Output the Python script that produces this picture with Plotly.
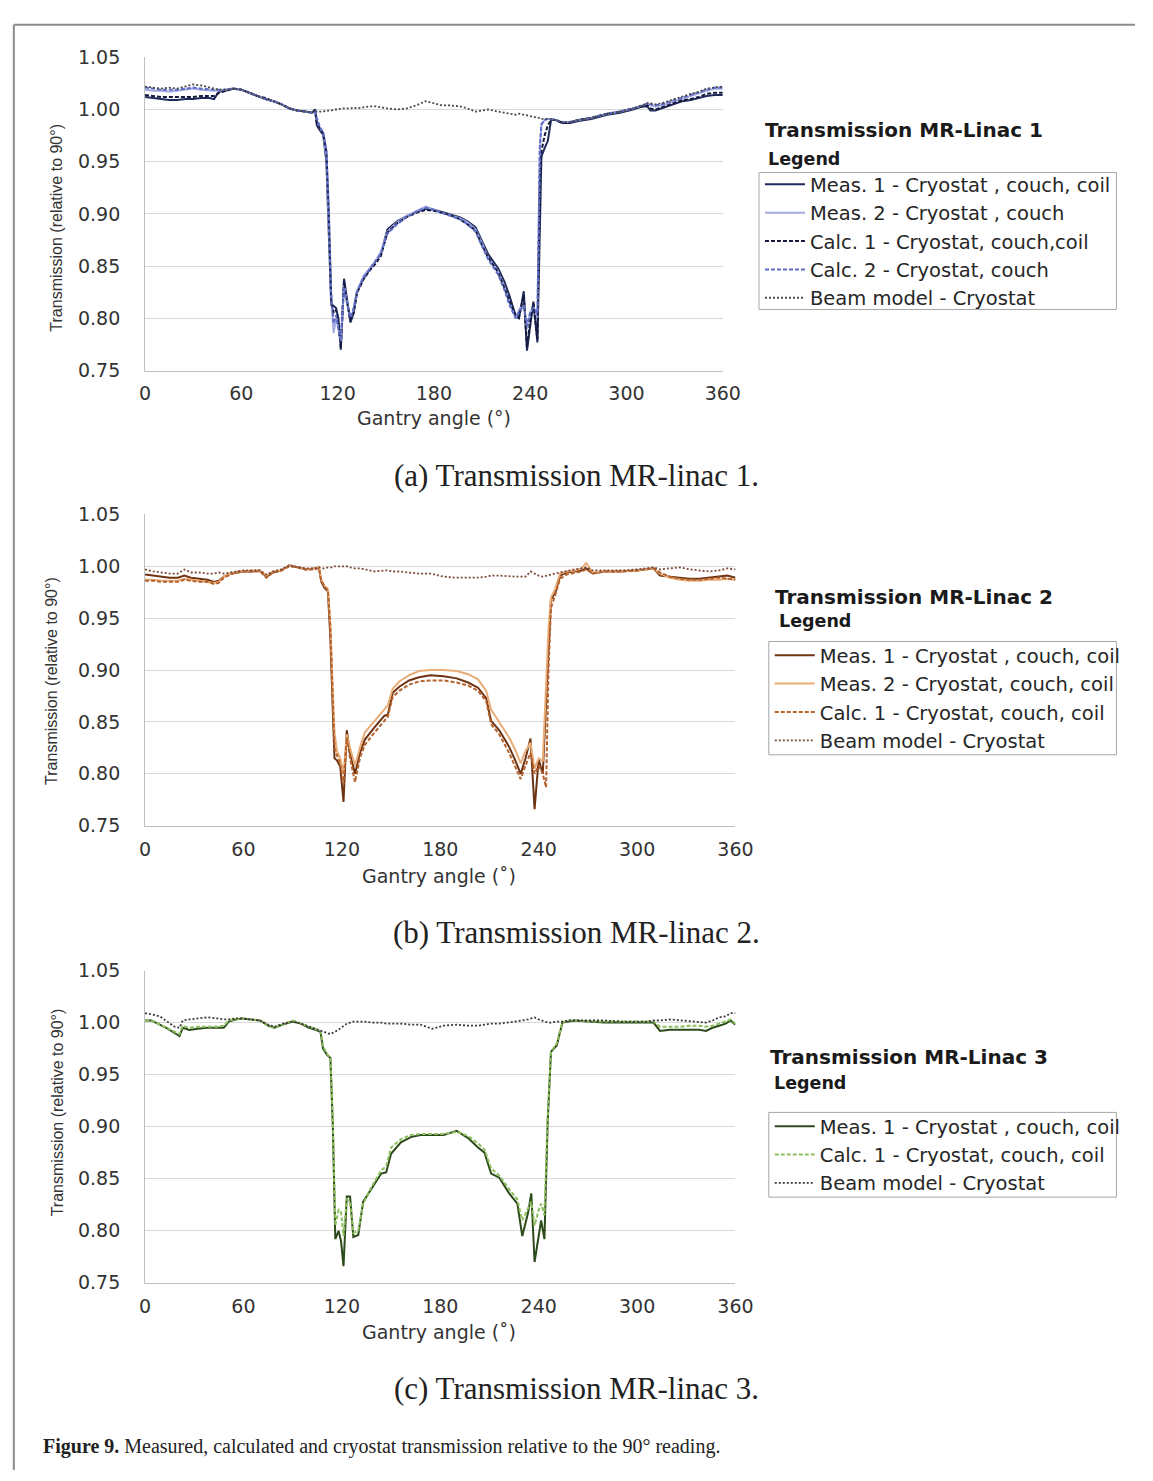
import plotly.graph_objects as go

W, H = 1153, 1481

# ---------------- DATA ----------------
X_TICKS = [0, 60, 120, 180, 240, 300, 360]
Y_TICKS = [0.75, 0.80, 0.85, 0.90, 0.95, 1.00, 1.05]

# Panel 1 - MR-Linac 1
A1 = [0, 5, 10, 15, 20, 25, 30, 35, 40, 43,
      46, 50, 55, 60, 65, 70, 75, 80, 85, 90,
      95, 100, 104, 106, 107, 109, 111, 113, 114.5, 116,
      117.5, 119, 120.5, 122, 124, 126, 128, 130, 132, 136,
      140, 144, 147, 151, 157, 163, 169, 175, 180, 185,
      190, 196, 201, 206, 210, 214, 220, 224, 227, 231,
      233, 236, 238, 240, 242, 244.5, 246, 247, 249, 251,
      253, 256, 260, 265, 270, 278, 288, 296, 304, 310,
      313, 315, 318, 322, 326, 330, 335, 340, 345, 350,
      355, 360]
MEAS1_1 = [1.012, 1.011, 1.010, 1.009, 1.009, 1.010, 1.010, 1.011, 1.011, 1.010,
           1.017, 1.018, 1.020, 1.019, 1.016, 1.013, 1.010, 1.008, 1.005, 1.001,
           0.999, 0.998, 0.997, 1.000, 0.985, 0.980, 0.976, 0.950, 0.880, 0.813,
           0.812, 0.810, 0.800, 0.770, 0.838, 0.818, 0.796, 0.805, 0.825, 0.838,
           0.847, 0.855, 0.862, 0.885, 0.893, 0.898, 0.902, 0.905, 0.904, 0.902,
           0.900, 0.897, 0.893, 0.887, 0.874, 0.861, 0.848, 0.835, 0.822, 0.802,
           0.800, 0.826, 0.769, 0.795, 0.816, 0.777, 0.900, 0.955, 0.963, 0.970,
           0.990, 0.990, 0.987, 0.987, 0.989, 0.991, 0.995, 0.997, 1.000, 1.003,
           1.003, 0.999, 0.999, 1.001, 1.003, 1.005, 1.008, 1.009, 1.011, 1.013,
           1.014, 1.014]
MEAS2_1 = [1.019, 1.018, 1.018, 1.017, 1.018, 1.019, 1.020, 1.019, 1.018, 1.018,
           1.018, 1.019, 1.020, 1.019, 1.016, 1.013, 1.010, 1.008, 1.005, 1.001,
           0.999, 0.998, 0.997, 0.998, 0.990, 0.982, 0.978, 0.955, 0.890, 0.820,
           0.786, 0.800, 0.790, 0.775, 0.832, 0.815, 0.800, 0.808, 0.826, 0.840,
           0.848, 0.856, 0.864, 0.883, 0.892, 0.898, 0.903, 0.907, 0.904, 0.901,
           0.899, 0.896, 0.892, 0.885, 0.872, 0.858, 0.845, 0.830, 0.815, 0.800,
           0.808, 0.815, 0.790, 0.805, 0.812, 0.800, 0.960, 0.985, 0.990, 0.991,
           0.991, 0.990, 0.988, 0.988, 0.990, 0.992, 0.996, 0.998, 1.001, 1.004,
           1.005, 1.004, 1.003, 1.004, 1.006, 1.008, 1.011, 1.013, 1.016, 1.018,
           1.020, 1.020]
CALC1_1 = [1.014, 1.013, 1.012, 1.012, 1.012, 1.012, 1.012, 1.013, 1.013, 1.013,
           1.016, 1.018, 1.020, 1.019, 1.016, 1.013, 1.011, 1.008, 1.005, 1.001,
           0.999, 0.998, 0.997, 0.999, 0.988, 0.981, 0.977, 0.960, 0.900, 0.818,
           0.805, 0.808, 0.795, 0.772, 0.835, 0.815, 0.798, 0.806, 0.824, 0.837,
           0.846, 0.853, 0.860, 0.882, 0.891, 0.897, 0.901, 0.904, 0.903, 0.901,
           0.899, 0.895, 0.890, 0.884, 0.870, 0.858, 0.844, 0.829, 0.817, 0.803,
           0.801, 0.822, 0.772, 0.798, 0.814, 0.780, 0.930, 0.960, 0.975, 0.985,
           0.990, 0.990, 0.987, 0.988, 0.990, 0.992, 0.996, 0.998, 1.001, 1.003,
           1.004, 1.001, 1.000, 1.002, 1.004, 1.006, 1.009, 1.010, 1.012, 1.015,
           1.016, 1.016]
CALC2_1 = [1.021, 1.020, 1.019, 1.019, 1.019, 1.020, 1.021, 1.020, 1.019, 1.019,
           1.019, 1.019, 1.020, 1.019, 1.016, 1.013, 1.010, 1.008, 1.005, 1.001,
           0.999, 0.998, 0.997, 0.998, 0.992, 0.983, 0.978, 0.962, 0.905, 0.825,
           0.795, 0.803, 0.792, 0.778, 0.830, 0.813, 0.801, 0.810, 0.825, 0.839,
           0.847, 0.855, 0.862, 0.881, 0.890, 0.897, 0.902, 0.906, 0.904, 0.901,
           0.898, 0.895, 0.890, 0.883, 0.869, 0.856, 0.842, 0.827, 0.813, 0.800,
           0.806, 0.812, 0.793, 0.806, 0.810, 0.805, 0.965, 0.986, 0.990, 0.991,
           0.991, 0.990, 0.988, 0.988, 0.990, 0.992, 0.996, 0.998, 1.001, 1.004,
           1.006, 1.005, 1.004, 1.005, 1.007, 1.009, 1.012, 1.014, 1.017, 1.019,
           1.021, 1.021]
BEAM_1 = [1.022, 1.021, 1.020, 1.021, 1.020, 1.022, 1.024, 1.023, 1.021, 1.020,
          1.019, 1.019, 1.020, 1.019, 1.016, 1.013, 1.010, 1.008, 1.005, 1.001,
          0.999, 0.998, 0.997, 0.998, 0.998, 0.998, 0.998, 0.999, 0.999, 0.999,
          1.000, 1.000, 1.000, 1.001, 1.001, 1.001, 1.001, 1.002, 1.001, 1.002,
          1.003, 1.003, 1.002, 1.001, 1.000, 1.001, 1.004, 1.008, 1.006, 1.004,
          1.004, 1.003, 1.001, 0.998, 0.999, 1.000, 0.998, 0.997, 0.996, 0.995,
          0.996, 0.995, 0.995, 0.994, 0.993, 0.992, 0.992, 0.991, 0.991, 0.991,
          0.991, 0.990, 0.988, 0.988, 0.990, 0.992, 0.996, 0.998, 1.001, 1.004,
          1.006, 1.006, 1.005, 1.006, 1.008, 1.010, 1.013, 1.015, 1.017, 1.020,
          1.021, 1.022]

# Panel 2 - MR-Linac 2
A2 = [0, 5, 10, 15, 20, 24, 28, 33, 38, 42,
      45, 48, 52, 56, 60, 65, 70, 74, 78, 83,
      88, 93, 98, 103, 106, 107.5, 109.5, 111.5, 113, 114.5,
      115.5, 117, 119, 121, 123, 125, 128, 131, 134, 140,
      146, 148, 151, 155, 161, 167, 174, 182, 190, 197,
      203, 208, 211, 216, 222, 226, 229, 232, 235, 237.5,
      240, 242.5, 244.5, 246, 247.5, 250, 253, 257, 262, 266,
      269, 273, 280, 290, 300, 306, 310, 314, 320, 326,
      332, 338, 344, 350, 355, 360]
MEAS1_2 = [0.992, 0.991, 0.990, 0.989, 0.989, 0.991, 0.989, 0.988, 0.987, 0.985,
           0.986, 0.990, 0.993, 0.994, 0.995, 0.995, 0.996, 0.990, 0.994, 0.996,
           1.001, 0.999, 0.997, 0.998, 0.999, 0.985, 0.979, 0.976, 0.930, 0.860,
           0.815, 0.813, 0.807, 0.773, 0.842, 0.820, 0.800, 0.820, 0.833, 0.845,
           0.856, 0.857, 0.878, 0.884, 0.890, 0.893, 0.895, 0.894, 0.892, 0.888,
           0.883, 0.873, 0.851, 0.842, 0.826, 0.812, 0.800, 0.815, 0.834, 0.766,
           0.814, 0.800, 0.870, 0.930, 0.968, 0.974, 0.991, 0.994, 0.995, 0.996,
           0.998, 0.993, 0.995, 0.995, 0.996, 0.997, 0.998, 0.991, 0.990, 0.989,
           0.988, 0.988, 0.989, 0.990, 0.991, 0.989]
MEAS2_2 = [0.987, 0.987, 0.986, 0.986, 0.986, 0.988, 0.987, 0.986, 0.985, 0.984,
           0.985, 0.990, 0.993, 0.995, 0.995, 0.996, 0.996, 0.991, 0.995, 0.996,
           1.001, 0.999, 0.997, 0.998, 0.999, 0.987, 0.981, 0.978, 0.945, 0.880,
           0.840, 0.822, 0.815, 0.800, 0.838, 0.825, 0.808, 0.825, 0.840, 0.851,
           0.862, 0.866, 0.882, 0.889, 0.895, 0.899, 0.900, 0.900, 0.899, 0.896,
           0.891, 0.880, 0.862, 0.850, 0.835, 0.822, 0.810, 0.822, 0.830, 0.805,
           0.815, 0.812, 0.880, 0.940, 0.970, 0.978, 0.993, 0.995, 0.996, 0.998,
           1.003, 0.994, 0.995, 0.995, 0.996, 0.997, 0.998, 0.993, 0.989, 0.987,
           0.986, 0.986, 0.987, 0.987, 0.988, 0.987]
CALC1_2 = [0.986, 0.986, 0.985, 0.985, 0.985, 0.987, 0.986, 0.985, 0.985, 0.983,
           0.984, 0.989, 0.992, 0.994, 0.995, 0.995, 0.995, 0.989, 0.994, 0.996,
           1.000, 0.999, 0.997, 0.997, 0.998, 0.986, 0.980, 0.977, 0.940, 0.870,
           0.825, 0.818, 0.810, 0.790, 0.835, 0.815, 0.792, 0.815, 0.828, 0.840,
           0.852, 0.855, 0.874, 0.880, 0.886, 0.889, 0.890, 0.890, 0.888, 0.885,
           0.880, 0.870, 0.848, 0.838, 0.820, 0.806, 0.795, 0.808, 0.820, 0.800,
           0.808, 0.800, 0.787, 0.900, 0.960, 0.972, 0.988, 0.992, 0.994, 0.995,
           0.997, 0.993, 0.995, 0.995, 0.996, 0.997, 0.998, 0.994, 0.990, 0.988,
           0.987, 0.987, 0.988, 0.989, 0.988, 0.987]
BEAM_2 = [0.997, 0.995, 0.994, 0.993, 0.993, 0.997, 0.994, 0.994, 0.993, 0.993,
          0.994, 0.993, 0.994, 0.995, 0.996, 0.996, 0.996, 0.992, 0.995, 0.997,
          1.001, 0.999, 0.998, 0.998, 0.999, 0.998, 0.998, 0.999, 0.999, 0.999,
          1.000, 1.000, 1.000, 1.000, 1.000, 0.999, 0.998, 0.998, 0.997, 0.995,
          0.996, 0.996, 0.995, 0.995, 0.994, 0.993, 0.993, 0.990, 0.989, 0.989,
          0.989, 0.990, 0.991, 0.991, 0.990, 0.990, 0.990, 0.990, 0.995, 0.993,
          0.991, 0.990, 0.991, 0.991, 0.992, 0.993, 0.994, 0.996, 0.997, 0.998,
          0.999, 0.996, 0.996, 0.996, 0.997, 0.998, 0.999, 0.997, 0.998, 0.999,
          0.997, 0.996, 0.995, 0.996, 0.998, 0.997]

# Panel 3 - MR-Linac 3
A3 = [0, 4, 9, 14, 18, 21, 23, 27, 32, 38,
      44, 48, 51, 55, 59, 64, 70, 75, 79, 84,
      90, 95, 100, 104, 107, 108.5, 111, 113, 114.5, 116,
      118, 119.5, 121, 123, 125, 127, 130, 133, 138, 144,
      147, 150, 156, 162, 168, 175, 182, 190, 197, 203,
      207, 211, 216, 222, 227, 230, 233.5, 235.5, 237.5, 240,
      241.5, 243.5, 245.5, 247.5, 251, 254.5, 258, 262, 270, 280,
      290, 300, 306, 310, 314, 320, 326, 332, 338, 342,
      346, 350, 354, 357, 360]
MEAS1_3 = [1.002, 1.002, 0.998, 0.994, 0.990, 0.987, 0.995, 0.993, 0.994, 0.995,
           0.995, 0.995, 1.001, 1.003, 1.004, 1.003, 1.002, 0.997, 0.995, 0.998,
           1.001, 0.999, 0.995, 0.993, 0.991, 0.975, 0.969, 0.966, 0.900, 0.792,
           0.800, 0.790, 0.766, 0.833, 0.833, 0.794, 0.796, 0.828, 0.840, 0.855,
           0.856, 0.874, 0.885, 0.890, 0.892, 0.892, 0.892, 0.896, 0.889, 0.880,
           0.875, 0.855, 0.851, 0.836, 0.826, 0.795, 0.817, 0.836, 0.770, 0.795,
           0.810, 0.792, 0.905, 0.972, 0.978, 1.000, 1.001, 1.002, 1.001, 1.000,
           1.000, 1.000, 1.000, 1.000, 0.992, 0.993, 0.993, 0.993, 0.993, 0.992,
           0.995, 0.997, 0.999, 1.002, 0.998]
CALC1_3 = [1.002, 1.002, 0.998, 0.994, 0.991, 0.989, 0.997, 0.995, 0.996, 0.996,
           0.996, 0.997, 1.002, 1.003, 1.004, 1.003, 1.002, 0.997, 0.995, 0.998,
           1.002, 0.999, 0.996, 0.994, 0.992, 0.977, 0.970, 0.966, 0.905, 0.805,
           0.820, 0.818, 0.795, 0.830, 0.828, 0.798, 0.800, 0.826, 0.842, 0.858,
           0.862, 0.880, 0.888, 0.892, 0.893, 0.893, 0.893, 0.895, 0.891, 0.884,
           0.878, 0.860, 0.853, 0.840, 0.830, 0.810, 0.822, 0.828, 0.805, 0.820,
           0.826, 0.815, 0.910, 0.972, 0.980, 1.000, 1.002, 1.002, 1.001, 1.001,
           1.001, 1.001, 1.001, 1.001, 0.996, 0.996, 0.996, 0.997, 0.997, 0.996,
           0.997, 0.999, 1.001, 1.003, 0.999]
BEAM_3 = [1.009, 1.008, 1.006, 1.000, 0.996, 0.995, 1.002, 1.003, 1.004, 1.005,
          1.004, 1.003, 1.003, 1.004, 1.004, 1.003, 1.002, 0.998, 0.996, 0.999,
          1.001, 0.999, 0.996, 0.994, 0.992, 0.991, 0.990, 0.989, 0.990, 0.991,
          0.993, 0.995, 0.997, 0.999, 1.000, 1.001, 1.001, 1.001, 1.000, 1.000,
          0.999, 0.999, 0.999, 0.998, 0.998, 0.994, 0.997, 0.998, 0.997, 0.997,
          0.998, 0.999, 0.999, 1.000, 1.001, 1.002, 1.003, 1.004, 1.005, 1.003,
          1.002, 1.001, 1.000, 1.000, 1.001, 1.001, 1.002, 1.002, 1.002, 1.002,
          1.001, 1.001, 1.001, 1.002, 1.002, 1.003, 1.002, 1.001, 1.000, 1.000,
          1.002, 1.005, 1.006, 1.009, 1.009]

NAMES_1 = ["Meas. 1 - Cryostat , couch, coil", "Meas. 2 - Cryostat , couch",
           "Calc. 1 - Cryostat, couch,coil", "Calc. 2 - Cryostat, couch",
           "Beam model - Cryostat"]
NAMES_2 = ["Meas. 1 - Cryostat , couch, coil", "Meas. 2 - Cryostat, couch, coil",
           "Calc. 1 - Cryostat, couch, coil", "Beam model - Cryostat"]
NAMES_3 = ["Meas. 1 - Cryostat , couch, coil", "Calc. 1 - Cryostat, couch, coil",
           "Beam model - Cryostat"]

PANEL_TITLES = ["Transmission MR-Linac 1", "Transmission MR-Linac 2", "Transmission MR-Linac 3"]
CAPTIONS = ["(a) Transmission MR-linac 1.", "(b) Transmission MR-linac 2.", "(c) Transmission MR-linac 3."]
X_TITLES = ["Gantry angle (°)", "Gantry angle (˚)", "Gantry angle (˚)"]
Y_TITLE = "Transmission (relative to 90°)"
FIG_CAPTION = "<b>Figure 9.</b> Measured, calculated and cryostat transmission relative to the 90° reading."

# ---------------- STYLE / LAYOUT ----------------
def px(x):
    return x / W

def py(y):
    return 1 - y / H

SANS = "DejaVu Sans"
NARROW = "Liberation Sans"
SERIF = "Liberation Serif"
DASH = "4px,2px"
DOT = "2px,2px"
TICK_FONT = dict(family=SANS, size=19, color="#333333")

panels = [
    dict(ang=A1, plot=(142, 732, 47, 365), legend="legend",
         series=[(MEAS1_1, "#1e2a5a", "solid"), (MEAS2_1, "#a4abe0", "solid"),
                 (CALC1_1, "#151a3e", DASH), (CALC2_1, "#5d6cc6", DASH),
                 (BEAM_1, "#4a4a4a", DOT)],
         names=NAMES_1, title_xy=(773, 121), leg_xy=(776, 150), box=(769, 1134, 164, 303),
         first_item=177, ytitle=(52, 220), xtitle=(437, 413), caption_y=472),
    dict(ang=A2, plot=(142, 745, 511, 827), legend="legend2",
         series=[(MEAS1_2, "#6e3312", "solid"), (MEAS2_2, "#e9ad78", "solid"),
                 (CALC1_2, "#b5622d", DASH), (BEAM_2, "#7d4a3a", DOT)],
         names=NAMES_2, title_xy=(783, 595), leg_xy=(787, 619), box=(779, 1134, 640, 755),
         first_item=655, ytitle=(47, 680), xtitle=(442, 878), caption_y=935),
    dict(ang=A3, plot=(142, 745, 974, 1291), legend="legend3",
         series=[(MEAS1_3, "#2c4a1a", "solid"), (CALC1_3, "#8cbf5c", DASH),
                 (BEAM_3, "#3a3a3a", DOT)],
         names=NAMES_3, title_xy=(778, 1062), leg_xy=(782, 1088), box=(779, 1134, 1118, 1204),
         first_item=1133, ytitle=(52, 1118), xtitle=(442, 1341), caption_y=1398),
]

fig = go.Figure()
annotations = []
shapes = []
layout = {}

for i, p in enumerate(panels):
    n = "" if i == 0 else str(i + 1)
    xa, ya = "x" + n, "y" + n
    x0, x1, y0, y1 = p["plot"]
    layout["xaxis" + n] = dict(
        domain=[px(x0), px(x1)], range=[0, 360], tickvals=X_TICKS, anchor=ya,
        showgrid=False, zeroline=False, showline=True, linecolor="#bfbfbf", linewidth=1,
        ticks="", ticklabelstandoff=6, tickfont=TICK_FONT)
    layout["yaxis" + n] = dict(
        domain=[py(y1), py(y0)], range=[0.75, 1.05], tickvals=Y_TICKS, tickformat=".2f",
        anchor=xa, showgrid=True, gridcolor="#d9d9d9", gridwidth=1, zeroline=False,
        showline=True, linecolor="#bfbfbf", linewidth=1, ticks="", ticklabelstandoff=20,
        tickfont=TICK_FONT)

    for k, ((vals, color, dash), name) in enumerate(zip(p["series"], p["names"])):
        fig.add_trace(go.Scatter(
            x=p["ang"], y=vals, mode="lines", name=name, xaxis=xa, yaxis=ya,
            legend=p["legend"], legendgroup=f"g{i}{k}",
            line=dict(color=color, width=2 if dash != DOT else 1.8, dash=dash)))

    bx0, bx1, by0, by1 = p["box"]
    layout[p["legend"]] = dict(
        x=px(bx0 + 1), y=py(p["first_item"] - 20.5), xanchor="left", yanchor="top",
        bgcolor="rgba(0,0,0,0)", borderwidth=0, itemwidth=40, tracegroupgap=0,
        font=dict(family=SANS, size=19.5, color="#262626"))
    shapes.append(dict(type="rect", xref="paper", yref="paper",
                       x0=px(bx0), x1=px(bx1), y0=py(by1), y1=py(by0),
                       line=dict(color="#a6a6a6", width=1)))

    tx, ty = p["title_xy"]
    annotations.append(dict(text="<b>" + PANEL_TITLES[i] + "</b>", x=px(tx), y=py(ty),
                            xref="paper", yref="paper", xanchor="left", yanchor="middle",
                            showarrow=False, font=dict(family=SANS, size=20, color="#1a1a1a")))
    lx, ly = p["leg_xy"]
    annotations.append(dict(text="<b>Legend</b>", x=px(lx), y=py(ly),
                            xref="paper", yref="paper", xanchor="left", yanchor="middle",
                            showarrow=False, font=dict(family=SANS, size=17.5, color="#1a1a1a")))
    yx, yy = p["ytitle"]
    annotations.append(dict(text=Y_TITLE, x=px(yx), y=py(yy), xref="paper", yref="paper",
                            xanchor="center", yanchor="middle", textangle=-90, showarrow=False,
                            font=dict(family=NARROW, size=16, color="#333333")))
    gx, gy = p["xtitle"]
    annotations.append(dict(text=X_TITLES[i], x=px(gx), y=py(gy), xref="paper", yref="paper",
                            xanchor="center", yanchor="middle", showarrow=False,
                            font=dict(family=SANS, size=19, color="#333333")))
    annotations.append(dict(text=CAPTIONS[i], x=px(583), y=py(p["caption_y"]),
                            xref="paper", yref="paper", xanchor="center", yanchor="middle",
                            showarrow=False, font=dict(family=SERIF, size=31, color="#222222")))

annotations.append(dict(text=FIG_CAPTION, x=px(36), y=py(1457), xref="paper", yref="paper",
                        xanchor="left", yanchor="middle", showarrow=False,
                        font=dict(family=SERIF, size=20, color="#222222")))

# page frame (top and left rules)
shapes.append(dict(type="line", xref="paper", yref="paper", x0=px(8), x1=1, y0=py(14), y1=py(14),
                   line=dict(color="#8c8c8c", width=2)))
shapes.append(dict(type="line", xref="paper", yref="paper", x0=px(8), x1=px(8), y0=py(14), y1=0,
                   line=dict(color="#8c8c8c", width=2)))

fig.update_layout(
    width=W, height=H, margin=dict(l=0, r=0, t=0, b=0),
    paper_bgcolor="white", plot_bgcolor="white", showlegend=True,
    annotations=annotations, shapes=shapes, **layout)

fig.write_html("out.html")
